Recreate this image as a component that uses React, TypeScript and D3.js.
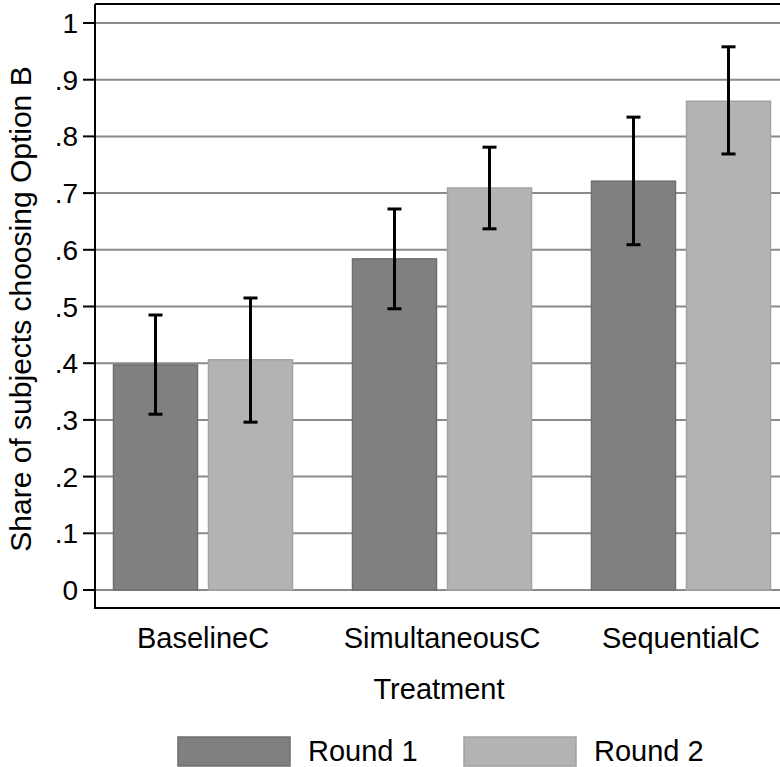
import React from "react";
import { scaleBand, scaleLinear } from "d3";

const treatments = ["BaselineC", "SimultaneousC", "SequentialC"];
const rounds = ["Round 1", "Round 2"];
const round1 = [0.397, 0.584, 0.721];
const round2 = [0.406, 0.709, 0.862];
const round1Low = [0.31, 0.496, 0.609];
const round1High = [0.485, 0.672, 0.834];
const round2Low = [0.296, 0.637, 0.769];
const round2High = [0.515, 0.781, 0.958];
const yTicks = [0, 0.1, 0.2, 0.3, 0.4, 0.5, 0.6, 0.7, 0.8, 0.9, 1];
const yTickLabels = ["0", ".1", ".2", ".3", ".4", ".5", ".6", ".7", ".8", ".9", "1"];

const W = 780;
const H = 767;
const font = "'Liberation Sans', Arial, sans-serif";
const fills = ["#808080", "#b3b3b3"];
const strokes = ["#6e6e6e", "#a2a2a2"];

function App() {
  const left = 95;
  const top = 4;
  const bottom = 608;
  const right = 789;

  const y = scaleLinear().domain([0, 1]).range([590, 23]);
  const x0 = scaleBand().domain(treatments).range([left, right]).paddingInner(0.251).paddingOuter(0.0774);
  const x1 = scaleBand().domain(rounds).range([0, x0.bandwidth()]).paddingInner(0.116);

  const series = [
    { name: rounds[0], vals: round1, lo: round1Low, hi: round1High },
    { name: rounds[1], vals: round2, lo: round2Low, hi: round2High },
  ];

  return (
    <svg width={W} height={H} style={{ display: "block", position: "absolute", left: 0, top: 0 }}>
      <rect width={W} height={H} fill="#fff" />
      {/* grid */}
      {yTicks.map((t) => (
        <line key={"g" + t} x1={left} x2={W} y1={y(t)} y2={y(t)} stroke="#8a8a8a" strokeWidth={2} />
      ))}
      {/* bars */}
      {series.map((s, si) =>
        treatments.map((c, ci) => {
          const bx = (x0(c) as number) + (x1(s.name) as number);
          return (
            <rect
              key={s.name + c}
              x={bx}
              y={y(s.vals[ci])}
              width={x1.bandwidth()}
              height={y(0) - y(s.vals[ci])}
              fill={fills[si]}
              stroke={strokes[si]}
              strokeWidth={1.5}
            />
          );
        })
      )}
      {/* error bars */}
      {series.map((s, si) =>
        treatments.map((c, ci) => {
          const cx = (x0(c) as number) + (x1(s.name) as number) + x1.bandwidth() / 2;
          return (
            <g key={"e" + s.name + c} stroke="#000" strokeWidth={3}>
              <line x1={cx} x2={cx} y1={y(s.lo[ci])} y2={y(s.hi[ci])} />
              <line x1={cx - 7} x2={cx + 7} y1={y(s.lo[ci])} y2={y(s.lo[ci])} />
              <line x1={cx - 7} x2={cx + 7} y1={y(s.hi[ci])} y2={y(s.hi[ci])} />
            </g>
          );
        })
      )}
      {/* frame */}
      <line x1={left} x2={W} y1={top} y2={top} stroke="#000" strokeWidth={2} />
      <line x1={left} x2={W} y1={bottom} y2={bottom} stroke="#000" strokeWidth={2} />
      <line x1={left} x2={left} y1={top} y2={bottom + 1} stroke="#000" strokeWidth={2} />
      {/* y axis ticks */}
      {yTicks.map((t, i) => (
        <g key={"t" + t}>
          <line x1={83} x2={left} y1={y(t)} y2={y(t)} stroke="#000" strokeWidth={2} />
          <text x={78} y={y(t)} dy="0.36em" textAnchor="end" fontFamily={font} fontSize={28} fill="#000">
            {yTickLabels[i]}
          </text>
        </g>
      ))}
      <text
        transform={`translate(31, ${309}) rotate(-90)`}
        textAnchor="middle"
        fontFamily={font}
        fontSize={30}
        fill="#000"
      >
        Share of subjects choosing Option B
      </text>
      {/* x labels */}
      {treatments.map((c) => (
        <text key={"x" + c} x={(x0(c) as number) + x0.bandwidth() / 2} y={648} textAnchor="middle" fontFamily={font} fontSize={29} fill="#000">
          {c}
        </text>
      ))}
      <text x={439} y={699} textAnchor="middle" fontFamily={font} fontSize={29} fill="#000">
        Treatment
      </text>
      {/* legend */}
      {rounds.map((r, i) => (
        <g key={"l" + r} transform={`translate(${178 + i * 286}, 737)`}>
          <rect width={112} height={29} fill={fills[i]} stroke={strokes[i]} strokeWidth={1.5} />
          <text x={130} y={24} fontFamily={font} fontSize={29} fill="#000">
            {r}
          </text>
        </g>
      ))}
    </svg>
  );
}

export default App;
